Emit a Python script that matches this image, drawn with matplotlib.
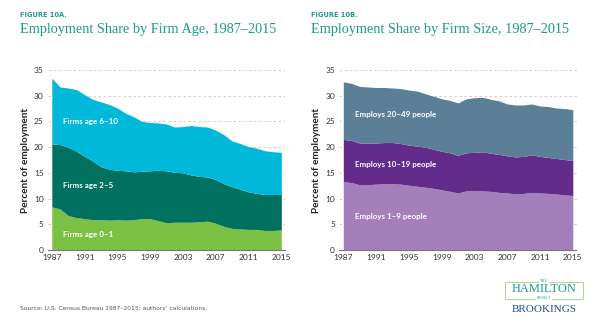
import numpy as np
import matplotlib.pyplot as plt

plt.rcParams.update({'font.family': ['Lato', 'DejaVu Sans']})

years = np.arange(1987, 2016)

# cumulative tops of each band (percent of employment)
age_0_1 = [8.4, 8.0, 6.7, 6.3, 6.1, 5.9, 5.9, 5.8, 5.9, 5.8, 5.9, 6.1, 6.1, 5.7, 5.3,
           5.4, 5.4, 5.4, 5.5, 5.6, 5.2, 4.6, 4.2, 4.1, 4.0, 4.0, 3.8, 3.8, 3.9]
age_2_5 = [20.6, 20.5, 20.0, 19.2, 18.2, 17.3, 16.2, 15.7, 15.5, 15.4, 15.2, 15.3, 15.4, 15.5, 15.4,
           15.1, 15.0, 14.6, 14.3, 14.2, 13.7, 12.9, 12.3, 11.8, 11.3, 11.0, 10.8, 10.8, 10.8]
age_6_10 = [33.4, 31.7, 31.5, 31.2, 30.2, 29.3, 28.8, 28.3, 27.6, 26.6, 25.9, 25.0, 24.8, 24.7, 24.5,
            23.9, 24.0, 24.2, 24.0, 23.9, 23.3, 22.4, 21.2, 20.7, 20.1, 19.8, 19.3, 19.1, 19.0]

size_1_9 = [13.3, 13.1, 12.7, 12.7, 12.8, 12.9, 12.9, 12.8, 12.6, 12.4, 12.2, 12.0, 11.7, 11.4, 11.1,
            11.5, 11.5, 11.5, 11.4, 11.2, 11.1, 10.9, 11.0, 11.2, 11.1, 11.0, 10.9, 10.7, 10.6]
size_10_19 = [21.5, 21.3, 20.8, 20.8, 20.8, 20.9, 20.9, 20.7, 20.4, 20.2, 20.0, 19.6, 19.2, 18.9, 18.4,
              18.9, 19.0, 19.1, 18.8, 18.6, 18.3, 18.1, 18.2, 18.5, 18.2, 18.0, 17.8, 17.6, 17.4]
size_20_49 = [32.7, 32.4, 31.8, 31.7, 31.6, 31.6, 31.5, 31.4, 31.1, 30.9, 30.4, 29.9, 29.4, 29.1, 28.6,
              29.4, 29.6, 29.7, 29.3, 29.0, 28.4, 28.2, 28.2, 28.4, 28.0, 27.9, 27.6, 27.5, 27.3]

xticks = [1987, 1991, 1995, 1999, 2003, 2007, 2011, 2015]
yticks = [0, 5, 10, 15, 20, 25, 30, 35]

teal = '#1b9a8c'
fig = plt.figure(figsize=(6, 3.27), dpi=100)


def panel(left, tops, colors, labels, label_y, fig_tag, title, title_x):
    ax = fig.add_axes([left / 600, 77 / 327, 237.3 / 600, 180 / 327])
    lower = np.zeros(len(years))
    for top, c in zip(tops, colors):
        ax.fill_between(years, lower, top, color=c, linewidth=0, zorder=2)
        lower = np.array(top)
    for txt, y in zip(labels, label_y):
        ax.text(1988.4, y, txt, color='white', fontsize=5.8, fontweight='bold',
                va='center', ha='left', zorder=3)
    ax.set_xlim(1986.5, 2015.45)
    ax.set_ylim(0, 35)
    ax.set_xticks(xticks)
    ax.set_yticks(yticks)
    ax.tick_params(length=0, labelsize=6, labelcolor='#333333', pad=3)
    ax.grid(axis='y', linestyle=(0, (3, 3)), color='#c8c8c8', linewidth=0.6, zorder=0)
    for s in ['top', 'right', 'left']:
        ax.spines[s].set_visible(False)
    ax.spines['bottom'].set_color('#777777')
    ax.spines['bottom'].set_linewidth(0.8)
    ax.spines['bottom'].set_zorder(4)
    ax.set_ylabel('Percent of employment', fontsize=7.2, fontweight='bold',
                  color='#222222', labelpad=3)
    fig.text(title_x / 600, 1 - 15 / 327, fig_tag, fontsize=4.8, fontweight='bold',
             color=teal, family='DejaVu Sans', va='center')
    fig.text(title_x / 600, 1 - 33 / 327, title, fontsize=10.3, color=teal,
             family='Liberation Serif', va='baseline')
    return ax


panel(47.7, [age_0_1, age_2_5, age_6_10], ['#7bc143', '#00705f', '#00b8d9'],
      ['Firms age 0–1', 'Firms age 2–5', 'Firms age 6–10'], [3.1, 12.5, 24.9],
      'FIGURE 10A.', 'Employment Share by Firm Age, 1987–2015', 20)
panel(339.2, [size_1_9, size_10_19, size_20_49], ['#a47fba', '#632c8a', '#5b7f96'],
      ['Employs 1–9 people', 'Employs 10–19 people', 'Employs 20–49 people'],
      [6.6, 16.7, 26.4],
      'FIGURE 10B.', 'Employment Share by Firm Size, 1987–2015', 311)

fig.text(20 / 600, 1 - 308 / 327, 'Source: U.S. Census Bureau 1987–2015; authors\u2019 calculations.',
         fontsize=4.3, color='#555555', family='DejaVu Sans', va='center')

# logo
fig.patches.append(plt.Rectangle((505 / 600, 1 - 299 / 327), 78 / 600, 17 / 327,
                                 transform=fig.transFigure, fill=False,
                                 edgecolor='#b5d69a', linewidth=0.8))
fig.text(544 / 600, 1 - 281 / 327, 'THE', fontsize=3, color=teal,
         family='Liberation Serif', ha='center', va='center',
         bbox=dict(facecolor='white', edgecolor='none', pad=0.5))
fig.text(544 / 600, 1 - 289.5 / 327, 'HAMILTON', fontsize=9, color=teal,
         family='Liberation Serif', ha='center', va='center')
fig.text(544 / 600, 1 - 298 / 327, 'PROJECT', fontsize=2.5, color=teal,
         family='Liberation Serif', ha='center', va='center',
         bbox=dict(facecolor='white', edgecolor='none', pad=0.5))
fig.text(544 / 600, 1 - 309 / 327, 'BROOKINGS', fontsize=8, color='#1f4e8c',
         family='Liberation Serif', ha='center', va='center')

fig.savefig('out.png', dpi=100)
